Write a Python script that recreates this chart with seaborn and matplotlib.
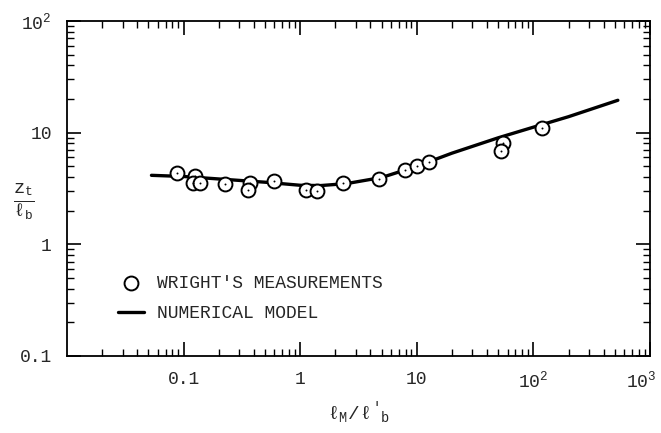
import matplotlib
matplotlib.use("Agg")
import matplotlib.pyplot as plt
import matplotlib.transforms as mtransforms
import seaborn as sns
import pandas as pd
import numpy as np
from matplotlib.ticker import LogLocator, FixedLocator, FixedFormatter, NullFormatter

# Wright's measurements
meas_x = [0.087, 0.125, 0.121, 0.138, 0.226, 0.371, 0.355, 0.60, 1.12, 1.39,
          2.35, 4.76, 7.93, 10.1, 12.6, 55.2, 52.5, 119.0]
meas_y = [4.32, 4.11, 3.52, 3.52, 3.44, 3.52, 3.06, 3.69, 3.06, 3.00,
          3.57, 3.82, 4.62, 5.06, 5.48, 8.13, 6.89, 11.07]

# Numerical model curve
model_x = [0.053, 0.1, 0.2, 0.5, 1.0, 1.5, 2.5, 5.0, 10.0, 20.0, 50.0, 100.0, 200.0, 530.0]
model_y = [4.15, 4.05, 3.85, 3.60, 3.38, 3.36, 3.50, 3.97, 5.00, 6.55, 9.00, 11.2, 13.9, 19.5]

x_ticks = [0.1, 1, 10, 100, 1000]
x_ticklabels = ["0.1", "1", "10", "$10^{2}$", "$10^{3}$"]
y_ticks = [0.1, 1, 10, 100]
y_ticklabels = ["0.1", "1", "10", "$10^{2}$"]

sns.set_style("ticks")
plt.rcParams["font.family"] = ["Liberation Mono", "DejaVu Sans"]
plt.rcParams["mathtext.fontset"] = "custom"
plt.rcParams["mathtext.rm"] = "Liberation Mono"
plt.rcParams["mathtext.it"] = "Liberation Mono"
plt.rcParams["mathtext.bf"] = "Liberation Mono:bold"

fig = plt.figure(figsize=(6.61, 4.33), dpi=100)
ax = fig.add_axes([67/661, 1-356/433, (650-67)/661, (356-21)/433])

df_meas = pd.DataFrame({"x": meas_x, "y": meas_y})
df_model = pd.DataFrame({"x": model_x, "y": model_y})

sns.lineplot(data=df_model, x="x", y="y", ax=ax, color="black", linewidth=2.4,
             label="NUMERICAL MODEL", zorder=2)
sns.scatterplot(data=df_meas, x="x", y="y", ax=ax, marker="o", s=100,
                facecolor="white", edgecolor="black", linewidth=1.4,
                label="WRIGHT'S MEASUREMENTS", zorder=3)
sns.scatterplot(data=df_meas, x="x", y="y", ax=ax, marker="o", s=2,
                color="black", linewidth=0, zorder=4, legend=False)

ax.set_xscale("log")
ax.set_yscale("log")
ax.set_xlim(0.01, 1000)
ax.set_ylim(0.1, 100)

ax.xaxis.set_major_locator(FixedLocator(x_ticks))
ax.xaxis.set_major_formatter(FixedFormatter(x_ticklabels))
ax.yaxis.set_major_locator(FixedLocator(y_ticks))
ax.yaxis.set_major_formatter(FixedFormatter(y_ticklabels))
ax.xaxis.set_minor_locator(LogLocator(base=10, subs=np.arange(2, 10), numticks=20))
ax.yaxis.set_minor_locator(LogLocator(base=10, subs=np.arange(2, 10), numticks=20))
ax.xaxis.set_minor_formatter(NullFormatter())
ax.yaxis.set_minor_formatter(NullFormatter())

ax.tick_params(which="both", direction="in", top=True, right=True, color="black")
ax.tick_params(which="major", length=10, width=1.2, pad=11, labelsize=13)
ax.tick_params(which="minor", length=5, width=1.0)
for s in ax.spines.values():
    s.set_linewidth(1.3)
    s.set_color("black")

# keep the last x tick label inside the figure
fig.canvas.draw()
last = ax.get_xticklabels()[-1]
last.set_transform(last.get_transform() +
                   mtransforms.ScaledTranslation(-9/100, 0, fig.dpi_scale_trans))

ax.set_xlabel(r"$\ell_{M}/\ell'_{b}$", fontsize=14, labelpad=5)
ax.set_ylabel(r"$\frac{z_t}{\ell_b}$", fontsize=19, rotation=0, labelpad=14,
              va="center")
ax.yaxis.set_label_coords(-0.075, 0.46)

handles, labels = ax.get_legend_handles_labels()
order = [labels.index("WRIGHT'S MEASUREMENTS"), labels.index("NUMERICAL MODEL")]
ax.legend([handles[i] for i in order], [labels[i] for i in order],
          loc="lower left", bbox_to_anchor=(0.06, 0.052), frameon=False,
          fontsize=13, handlelength=1.4, handletextpad=0.75, labelspacing=0.75)

fig.savefig("out.png", dpi=100)
